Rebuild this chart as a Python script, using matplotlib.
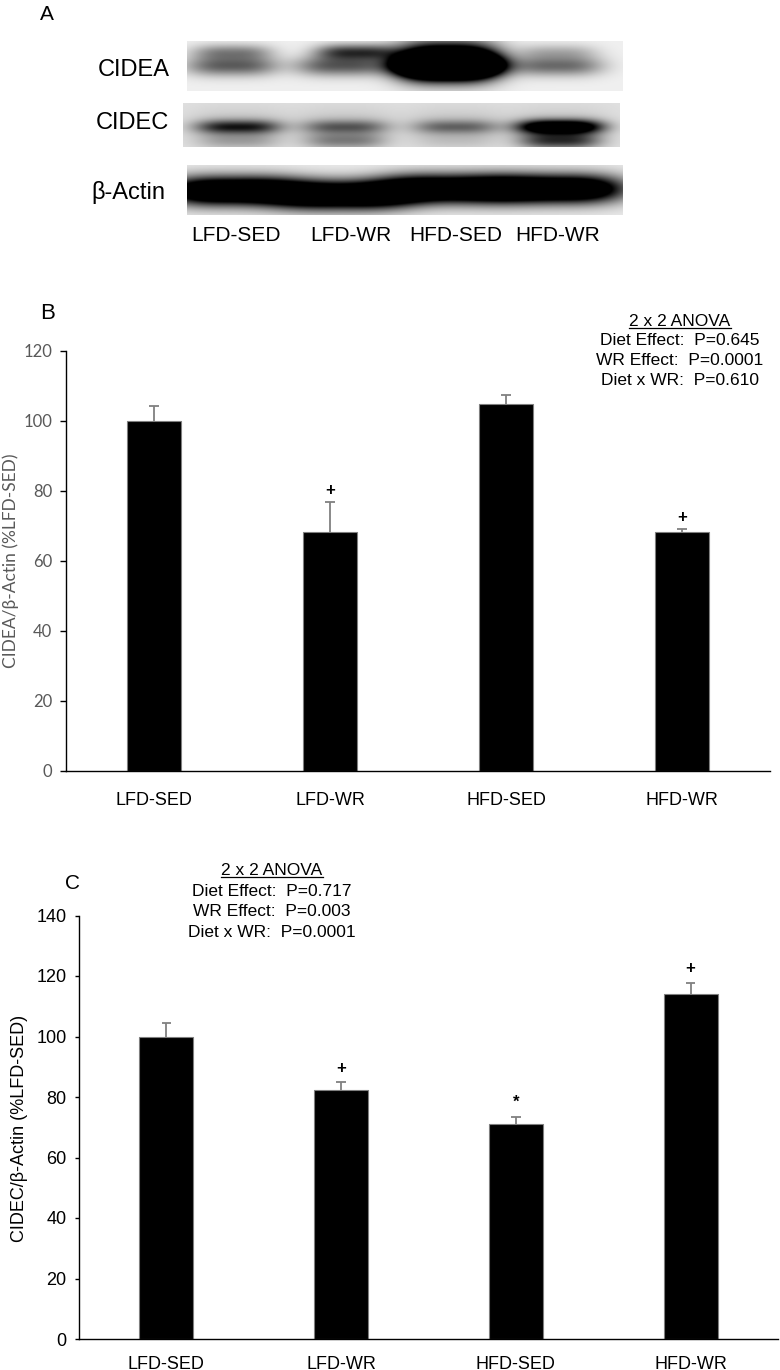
import matplotlib
matplotlib.use("Agg")
import matplotlib.pyplot as plt
import numpy as np

plt.rcParams['font.family'] = ['Liberation Sans', 'DejaVu Sans']

# données
groupes = ['LFD-SED', 'LFD-WR', 'HFD-SED', 'HFD-WR']

cidea_moy = [100.0, 68.3, 104.8, 68.2]
cidea_sem = [4.3, 8.5, 2.5, 1.0]
cidea_sig = ['', '+', '', '+']

cidec_moy = [100.0, 82.3, 71.0, 114.0]
cidec_sem = [4.6, 2.5, 2.4, 3.8]
cidec_sig = ['', '+', '*', '+']

anova_b = ['Diet Effect:  P=0.645', 'WR Effect:  P=0.0001', 'Diet x WR:  P=0.610']
anova_c = ['Diet Effect:  P=0.717', 'WR Effect:  P=0.003', 'Diet x WR:  P=0.0001']

# intensité des bandes du western blot (0 = rien, >=1 = saturé)
cidea_bande = [0.60, 0.62, 2.2, 0.55]
cidea_haut = [0.42, 0.75, 0.0, 0.25]
cidec_bande = [0.80, 0.50, 0.45, 1.5]
cidec_bas = [0.25, 0.40, 0.10, 0.75]
actine_bande = [1.8, 1.8, 1.8, 1.8]

W, H = 780, 1370
fig = plt.figure(figsize=(W / 100, H / 100), dpi=100)


def boite(x0, y0, x1, y1):
    return [x0 / W, 1 - y1 / H, (x1 - x0) / W, (y1 - y0) / H]


# axe de fond en pixels
fond = fig.add_axes([0, 0, 1, 1])
fond.set_xlim(0, W)
fond.set_ylim(H, 0)
fond.axis('off')

# ---- panneau A : blot ----
lanes_x = [232, 342, 448, 557]


def bande(X, Y, cx, cy, sx, sy, amp):
    return amp * np.exp(-(np.abs(X - cx) / sx) ** 3) * np.exp(-((Y - cy) / sy) ** 2)


def strip(x0, x1, y0, y1, fond_gris, bandes):
    xs = np.linspace(x0, x1, (x1 - x0) * 2)
    ys = np.linspace(y0, y1, (y1 - y0) * 2)
    X, Y = np.meshgrid(xs, ys)
    d = np.zeros_like(X)
    for b in bandes:
        d += bande(X, Y, *b)
    img = fond_gris * (1 - np.clip(d, 0, 1))
    fond.imshow(img, cmap='gray', vmin=0, vmax=1, extent=(x0, x1, y1, y0),
                aspect='auto', interpolation='bilinear', zorder=1)


b1 = []
for i, cx in enumerate(lanes_x):
    b1.append((cx, 66, 50 if i == 2 else 46, 10, cidea_bande[i]))
    b1.append((cx + (14 if i == 1 else 0), 52, 40, 8, cidea_haut[i]))
b1.append((lanes_x[2], 62, 50, 18, cidea_bande[2]))
strip(187, 623, 41, 91, 0.94, b1)

b2 = []
for i, cx in enumerate([238, 345, 456, 560]):
    b2.append((cx, 127, 42, 7, cidec_bande[i]))
    b2.append((cx, 141, 40, 8, cidec_bas[i]))
    b2.append((cx, 125, 50, 18, 0.12))
strip(183, 620, 103, 147, 0.88, b2)

b3 = []
for i, (cx, cy) in enumerate(zip(lanes_x, [191, 195, 189, 189])):
    b3.append((cx, cy, 66, 14, actine_bande[i]))
strip(187, 623, 165, 215, 0.92, b3)

fond.text(47, 14, 'A', fontsize=15, ha='center', va='center')
fond.text(170, 70, 'CIDEA', fontsize=17, ha='right', va='center')
fond.text(169, 123, 'CIDEC', fontsize=17, ha='right', va='center')
fond.text(165, 192, 'β-Actin', fontsize=17, ha='right', va='center')
for x, g in zip([236, 351, 456, 558], groupes):
    fond.text(x, 235, g, fontsize=15, ha='center', va='center')


def anova(cx, ys, lignes):
    t = fond.text(cx, ys[0], '2 x 2 ANOVA', fontsize=12.5, ha='center', va='center')
    fig.canvas.draw()
    bb = t.get_window_extent()
    fond.plot([bb.x0, bb.x1], [ys[0] + 7, ys[0] + 7], color='black', lw=0.9)
    for y, l in zip(ys[1:], lignes):
        fond.text(cx, y, l, fontsize=12.5, ha='center', va='center')


def barres(ax, moy, sem, sig, decal):
    x = np.arange(len(groupes))
    haut = np.array(moy) + np.array(sem)
    ax.vlines(x, moy, haut, color='#808080', lw=1.3, zorder=1)
    ax.hlines(haut, x - 0.027, x + 0.027, color='#808080', lw=1.3, zorder=1)
    ax.bar(x, moy, width=0.31, color='black', edgecolor='#7f7f7f', linewidth=0.8, zorder=2)
    for xi, h, g in zip(x, haut, sig):
        if g:
            ax.text(xi, h + decal, g, ha='center', va='center', fontsize=12,
                    fontweight='bold')
    ax.set_xlim(-0.5, 3.5)
    ax.set_xticks(x)
    ax.set_xticklabels(groupes)
    ax.set_facecolor('none')
    for c in ['top', 'right']:
        ax.spines[c].set_visible(False)
    for c in ['left', 'bottom']:
        ax.spines[c].set_linewidth(1.0)


# ---- panneau B ----
axb = fig.add_axes(boite(66, 351, 770, 771))
barres(axb, cidea_moy, cidea_sem, cidea_sig, 3.3)
axb.set_ylim(0, 120)
axb.set_yticks(range(0, 121, 20))
axb.tick_params(axis='y', length=4, width=1, pad=6, labelcolor='#595959', labelsize=12)
for lab in axb.get_yticklabels():
    lab.set_family(['Lato', 'DejaVu Sans'])
axb.tick_params(axis='x', length=0, pad=15, labelsize=13)
fond.text(11, 561, 'CIDEA/β-Actin (%LFD-SED)', rotation=90, ha='center', va='center',
          fontsize=12.5, color='#595959', family=['Lato', 'Open Sans', 'DejaVu Sans'])
fond.text(48, 313, 'B', fontsize=16, ha='center', va='center')
anova(680, [321, 340, 360, 380], anova_b)

# ---- panneau C ----
axc = fig.add_axes(boite(79, 915.5, 778, 1339))
barres(axc, cidec_moy, cidec_sem, cidec_sig, 4.7)
axc.set_ylim(0, 140)
axc.set_yticks(range(0, 141, 20))
axc.tick_params(axis='y', length=3, width=1, pad=6, labelsize=13)
axc.tick_params(axis='x', length=0, pad=12, labelsize=13)
fond.text(20, 1128, 'CIDEC/β-Actin (%LFD-SED)', rotation=90, ha='center', va='center',
          fontsize=13)
fond.text(72, 883, 'C', fontsize=15, ha='center', va='center')
anova(272, [870, 891, 911, 932], anova_c)

fig.savefig('out.png', dpi=100)
